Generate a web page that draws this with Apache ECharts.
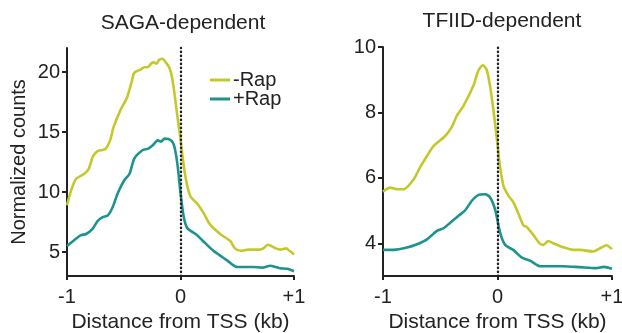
<!DOCTYPE html>
<html>
<head>
<meta charset="utf-8">
<script src="https://cdn.jsdelivr.net/npm/echarts@6/dist/echarts.min.js"></script>
<style>html,body{margin:0;padding:0;background:#fff}#c{width:622px;height:333px}</style>
</head>
<body>
<div id="c"></div>
<script>
// Distance from TSS (kb) and normalized counts
const sagaMinusX = [-1.0,-0.965,-0.92,-0.85,-0.81,-0.77,-0.73,-0.69,-0.66,-0.62,-0.59,-0.53,-0.47,-0.43,-0.41,-0.38,-0.35,-0.32,-0.29,-0.26,-0.235,-0.21,-0.19,-0.16,-0.13,-0.10,-0.08,-0.06,-0.03,0.0,0.03,0.06,0.09,0.15,0.2,0.26,0.35,0.44,0.48,0.53,0.6,0.64,0.7,0.73,0.77,0.8,0.84,0.88,0.93,0.96,1.0];
const sagaMinusY = [8.9,10.1,11.1,11.5,11.9,13.0,13.4,13.5,13.6,14.3,15.4,16.8,17.9,19.2,19.9,20.1,20.2,20.4,20.4,20.7,20.8,20.7,21.0,21.1,20.8,20.4,19.8,18.7,16.5,14.4,12.1,10.5,9.6,9.0,8.3,7.3,6.5,5.9,5.3,5.1,5.2,5.2,5.2,5.3,5.6,5.5,5.3,5.2,5.3,5.1,4.8];

const sagaPlusX = [-1.0,-0.935,-0.876,-0.832,-0.773,-0.729,-0.685,-0.64,-0.597,-0.553,-0.494,-0.45,-0.406,-0.332,-0.288,-0.244,-0.2,-0.171,-0.141,-0.082,-0.053,-0.024,0.0,0.029,0.059,0.1,0.146,0.2,0.29,0.35,0.41,0.45,0.5,0.57,0.64,0.72,0.79,0.84,0.877,0.94,1.0];
const sagaPlusY = [5.5,6.0,6.4,6.5,6.95,7.6,7.9,8.05,8.75,9.9,11.0,11.5,12.8,13.5,13.6,13.9,14.3,14.2,14.45,14.3,13.75,12.1,9.9,7.9,7.0,6.7,6.4,5.9,5.1,4.7,4.3,4.0,3.75,3.75,3.75,3.7,3.85,3.75,3.65,3.6,3.4];

const tfiidMinusX = [-1.0,-0.936,-0.87,-0.82,-0.733,-0.68,-0.617,-0.559,-0.457,-0.4,-0.355,-0.297,-0.21,-0.166,-0.128,-0.093,-0.064,-0.035,-0.006,0.023,0.052,0.067,0.096,0.139,0.183,0.226,0.256,0.284,0.314,0.373,0.4,0.443,0.487,0.574,0.661,0.72,0.748,0.835,0.907,0.951,1.0];
const tfiidMinusY = [5.58,5.7,5.65,5.65,5.95,6.3,6.66,6.97,7.28,7.55,7.9,8.2,8.82,9.29,9.44,9.29,8.78,8.06,7.2,6.32,5.75,5.63,5.45,5.25,4.9,4.55,4.5,4.38,4.25,3.98,3.95,4.07,4.0,3.88,3.8,3.8,3.79,3.75,3.87,3.94,3.82];

const tfiidPlusX = [-1.0,-0.907,-0.79,-0.703,-0.616,-0.529,-0.471,-0.413,-0.34,-0.282,-0.224,-0.166,-0.108,-0.064,-0.02,0.024,0.067,0.14,0.213,0.285,0.373,0.45,0.576,0.72,0.86,0.93,1.0];
const tfiidPlusY = [3.8,3.8,3.87,3.97,4.12,4.38,4.46,4.63,4.84,5.01,5.3,5.48,5.5,5.4,5.02,4.31,3.95,3.79,3.56,3.47,3.3,3.3,3.3,3.27,3.24,3.28,3.22];

const panelTitles = ['SAGA-dependent', 'TFIID-dependent'];
const seriesNames = ['-Rap', '+Rap'];
const xTicks = [-1, 0, 1];
const xTickLabels = ['-1', '0', '+1'];
const sagaYTicks = [5, 10, 15, 20];
const tfiidYTicks = [4, 6, 8, 10];

const YELLOW = '#c3c92b';
const TEAL = '#1c938f';
const INK = '#222';

function pairs(xs, ys) { return xs.map((x, i) => [x, ys[i]]); }

const axisLine = { show: true, onZero: false, lineStyle: { color: INK, width: 2 } };
const font = 'Liberation Sans, Arial, Helvetica, sans-serif';

function xAxis(gi) {
  return {
    type: 'value', gridIndex: gi, min: -1, max: 1, interval: 1,
    axisLine: axisLine,
    axisTick: { show: true, length: 4, lineStyle: { color: INK, width: 2 } },
    axisLabel: { color: INK, fontSize: 20, fontFamily: font, margin: 11,
      formatter: v => xTickLabels[xTicks.indexOf(Math.round(v))] ?? '' ,
      showMinLabel: true, showMaxLabel: true },
    splitLine: { show: false },
    name: 'Distance from TSS (kb)', nameLocation: 'middle', nameGap: 36,
    nameTextStyle: { color: INK, fontSize: 21, fontFamily: font }
  };
}
function yAxis(gi, min, max, ticks, name) {
  return {
    type: 'value', gridIndex: gi, min: min, max: max,
    axisLine: axisLine,
    axisTick: { show: true, length: 5, customValues: ticks, lineStyle: { color: INK, width: 2 } },
    axisLabel: { color: INK, fontSize: 20, fontFamily: font, margin: 7, customValues: ticks },
    splitLine: { show: false },
    name: name, nameLocation: 'middle', nameGap: 38,
    nameTextStyle: { color: INK, fontSize: 20, fontFamily: font }
  };
}
const vline = {
  silent: true, symbol: ['none', 'none'], label: { show: false },
  lineStyle: { color: INK, width: 2.4, type: [0.4, 3.6], cap: 'round' },
  data: [{ xAxis: 0 }]
};
function line(name, color, gi, data, mark) {
  const s = {
    type: 'line', name: name, xAxisIndex: gi, yAxisIndex: gi, data: data,
    showSymbol: false, smooth: 0.25, color: color,
    lineStyle: { color: color, width: 2.6 }, z: 3
  };
  if (mark) s.markLine = vline;
  return s;
}

const chart = echarts.init(document.getElementById('c'), null, { renderer: 'canvas' });
chart.setOption({
  animation: false,
  backgroundColor: '#fff',
  textStyle: { fontFamily: font },
  title: [
    { text: panelTitles[0], left: 178, top: 8, textAlign: 'center',
      textStyle: { color: INK, fontSize: 21, fontWeight: 'normal', fontFamily: font } },
    { text: panelTitles[1], left: 497, top: 6, textAlign: 'center',
      textStyle: { color: INK, fontSize: 21, fontWeight: 'normal', fontFamily: font } }
  ],
  legend: {
    orient: 'vertical', left: 205, top: 65, icon: 'rect', itemWidth: 20, itemHeight: 3,
    itemGap: -1, data: seriesNames,
    textStyle: { color: INK, fontSize: 20, fontFamily: font, lineHeight: 18, padding: [0,0,0,-2] }
  },
  grid: [
    { left: 67, width: 227, top: 48, height: 228, outerBoundsMode: 'none', containLabel: false },
    { left: 383, width: 229, top: 47, height: 229, outerBoundsMode: 'none', containLabel: false }
  ],
  xAxis: [xAxis(0), xAxis(1)],
  yAxis: [yAxis(0, 3, 22, sagaYTicks, 'Normalized counts'), yAxis(1, 3, 10, tfiidYTicks, '')],
  series: [
    line(seriesNames[0], YELLOW, 0, pairs(sagaMinusX, sagaMinusY), true),
    line(seriesNames[1], TEAL, 0, pairs(sagaPlusX, sagaPlusY), false),
    line(seriesNames[0], YELLOW, 1, pairs(tfiidMinusX, tfiidMinusY), true),
    line(seriesNames[1], TEAL, 1, pairs(tfiidPlusX, tfiidPlusY), false)
  ]
});
</script>
</body>
</html>
